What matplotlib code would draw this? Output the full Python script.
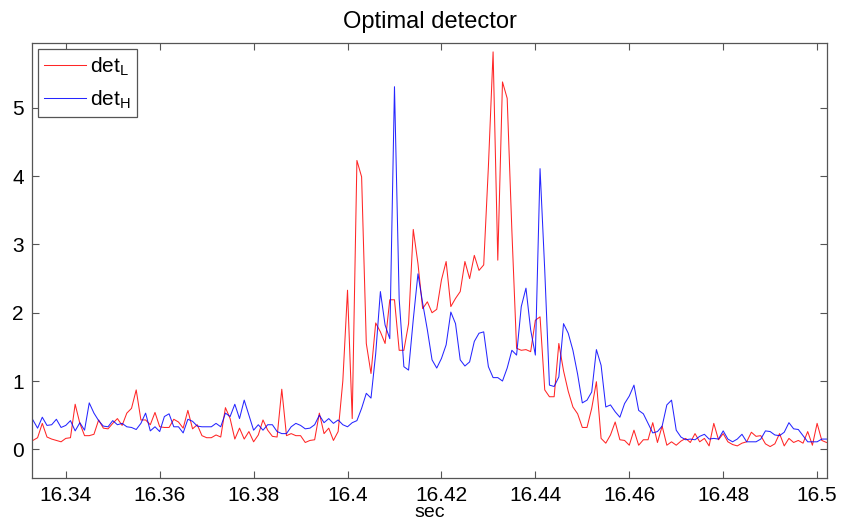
import numpy as np
import matplotlib.pyplot as plt

plt.rcParams['font.family'] = ['Liberation Sans', 'DejaVu Sans']
plt.rcParams['mathtext.fontset'] = 'custom'
plt.rcParams['mathtext.rm'] = 'Liberation Sans'

# detector outputs sampled every 1 ms starting at t0
t0 = 16.333
dt = 0.001

det_L = [0.13, 0.17, 0.38, 0.18, 0.15, 0.13, 0.11, 0.16, 0.17, 0.66,
         0.38, 0.20, 0.20, 0.22, 0.43, 0.31, 0.30, 0.38, 0.45, 0.35,
         0.53, 0.60, 0.87, 0.43, 0.43, 0.36, 0.54, 0.33, 0.32, 0.32,
         0.44, 0.40, 0.31, 0.57, 0.30, 0.36, 0.20, 0.17, 0.17, 0.21,
         0.18, 0.61, 0.45, 0.15, 0.31, 0.15, 0.26, 0.11, 0.21, 0.43,
         0.28, 0.19, 0.18, 0.88, 0.20, 0.23, 0.20, 0.20, 0.10, 0.13,
         0.14, 0.53, 0.23, 0.31, 0.13, 0.26, 1.00, 2.33, 0.45, 4.23,
         3.99, 1.55, 1.11, 1.85, 1.72, 1.55, 2.19, 2.19, 1.45, 1.45,
         1.84, 3.22, 2.72, 2.06, 2.16, 2.00, 2.05, 2.48, 2.75, 2.09,
         2.21, 2.31, 2.75, 2.50, 2.84, 2.62, 2.70, 4.14, 5.82, 2.77,
         5.38, 5.14, 3.20, 1.48, 1.45, 1.46, 1.43, 1.89, 1.94, 0.87,
         0.77, 0.77, 1.55, 1.15, 0.85, 0.62, 0.52, 0.32, 0.32, 0.60,
         0.99, 0.16, 0.09, 0.21, 0.40, 0.14, 0.13, 0.06, 0.28, 0.06,
         0.14, 0.14, 0.39, 0.10, 0.34, 0.06, 0.11, 0.06, 0.12, 0.16,
         0.10, 0.23, 0.11, 0.16, 0.05, 0.38, 0.14, 0.23, 0.11, 0.07,
         0.05, 0.09, 0.11, 0.25, 0.19, 0.20, 0.08, 0.04, 0.08, 0.23,
         0.05, 0.16, 0.10, 0.13, 0.09, 0.26, 0.06, 0.38, 0.13, 0.10]

det_H = [0.43, 0.31, 0.47, 0.35, 0.36, 0.44, 0.32, 0.35, 0.42, 0.27,
         0.39, 0.28, 0.68, 0.53, 0.42, 0.34, 0.33, 0.42, 0.36, 0.38,
         0.33, 0.32, 0.29, 0.38, 0.53, 0.27, 0.33, 0.26, 0.48, 0.52,
         0.33, 0.33, 0.24, 0.44, 0.41, 0.34, 0.33, 0.33, 0.33, 0.38,
         0.33, 0.53, 0.48, 0.66, 0.45, 0.72, 0.50, 0.28, 0.36, 0.28,
         0.36, 0.36, 0.26, 0.23, 0.23, 0.33, 0.38, 0.35, 0.30, 0.31,
         0.36, 0.50, 0.39, 0.45, 0.38, 0.43, 0.36, 0.33, 0.39, 0.42,
         0.60, 0.82, 0.75, 1.40, 2.31, 1.82, 1.62, 5.31, 2.20, 1.21,
         1.16, 1.90, 2.57, 2.14, 1.75, 1.31, 1.19, 1.33, 1.53, 2.01,
         1.84, 1.31, 1.22, 1.28, 1.58, 1.70, 1.72, 1.21, 1.05, 1.05,
         1.00, 1.19, 1.45, 1.38, 2.09, 2.36, 1.75, 1.38, 4.11, 2.62,
         0.94, 0.92, 1.06, 1.84, 1.70, 1.45, 1.10, 0.68, 0.72, 0.84,
         1.46, 1.23, 0.62, 0.65, 0.55, 0.47, 0.67, 0.78, 0.94, 0.57,
         0.52, 0.38, 0.24, 0.26, 0.34, 0.65, 0.72, 0.28, 0.18, 0.14,
         0.15, 0.14, 0.19, 0.22, 0.15, 0.16, 0.15, 0.27, 0.15, 0.11,
         0.15, 0.22, 0.11, 0.11, 0.11, 0.15, 0.27, 0.26, 0.21, 0.20,
         0.25, 0.39, 0.30, 0.29, 0.20, 0.11, 0.11, 0.11, 0.15, 0.15]

xticks = [16.34, 16.36, 16.38, 16.40, 16.42, 16.44, 16.46, 16.48, 16.50]
xtick_labels = ['16.34', '16.36', '16.38', '16.4', '16.42', '16.44', '16.46', '16.48', '16.5']
yticks = [0, 1, 2, 3, 4, 5]

t = t0 + dt * np.arange(len(det_L))

fig = plt.figure(figsize=(8.5, 5.22), dpi=100)
ax = fig.add_axes([0.0376, 0.0843, 0.9353, 0.8333])

ax.plot(t, det_L, color='#ff0000', lw=0.75, alpha=0.85, label=r'det$_{\mathrm{L}}$')
ax.plot(t, det_H, color='#0000ff', lw=0.75, alpha=0.85, label=r'det$_{\mathrm{H}}$')

ax.set_xlim(16.3328, 16.5021)
ax.set_ylim(-0.42, 5.95)
ax.set_xticks(xticks)
ax.set_xticklabels(xtick_labels)
ax.set_yticks(yticks)
ax.tick_params(direction='in', length=5, width=0.8, color='#555555',
               top=True, right=True, labelsize=15, pad=6)
for s in ax.spines.values():
    s.set_color('#555555')
    s.set_linewidth(0.9)

ax.set_title('Optimal detector', fontsize=17, pad=11)
ax.set_xlabel('sec', fontsize=14, labelpad=-1)

leg = ax.legend(loc='upper left', fontsize=15, fancybox=False, framealpha=1,
                edgecolor='#555555', borderaxespad=0.3, handlelength=2.0,
                handletextpad=0.2, borderpad=0.3, labelspacing=0.5)
leg.get_frame().set_linewidth(0.9)

fig.savefig('out.png', dpi=100)
